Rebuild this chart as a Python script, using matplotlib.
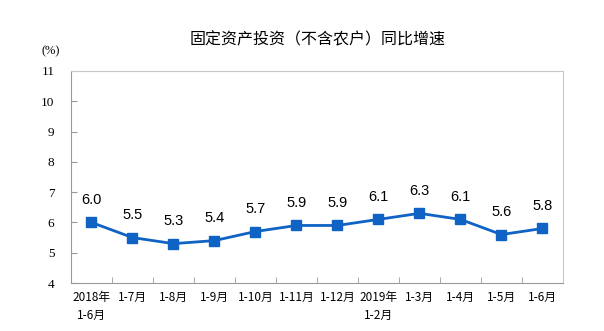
import numpy as np
import matplotlib.pyplot as plt

months = ["2018年\n1-6月", "1-7月", "1-8月", "1-9月", "1-10月", "1-11月", "1-12月",
          "2019年\n1-2月", "1-3月", "1-4月", "1-5月", "1-6月"]
growth = [6.0, 5.5, 5.3, 5.4, 5.7, 5.9, 5.9, 6.1, 6.3, 6.1, 5.6, 5.8]
yticks = [4, 5, 6, 7, 8, 9, 10, 11]

plt.rcParams["font.family"] = ["Noto Sans CJK SC", "DejaVu Sans"]

fig = plt.figure(figsize=(6.04, 3.31), dpi=100)
ax = fig.add_axes([0.1175, 0.145, 0.8145, 0.6405])

x_pos = np.arange(len(months))
ax.plot(x_pos, growth, color="#0E63C4", lw=2, marker="s", ms=7, zorder=3)
for x, v in zip(x_pos, growth):
    ax.annotate("%.1f" % v, (x, v), xytext=(0, 11), textcoords="offset points",
                ha="center", va="bottom", fontsize=10.5, family="Liberation Sans")

ax.set_xlim(-0.5, len(months) - 0.5)
ax.set_ylim(4, 11)
ax.set_yticks(yticks)
ax.set_yticklabels([str(t) for t in yticks], family="Liberation Serif", fontsize=9.5)
ax.set_xticks(x_pos)
ax.set_xticklabels(months, fontsize=8.5, linespacing=1.5)
ax.set_xticks(np.arange(-0.5, len(months)), minor=True)
ax.tick_params(axis="x", which="major", length=0, pad=6)
ax.tick_params(axis="x", which="minor", direction="in", length=4, color="#999999")
ax.tick_params(axis="y", direction="in", length=4, color="#999999", pad=12)

for s in ["top", "right"]:
    ax.spines[s].set_color("#c8c8c8")
for s in ["left", "bottom"]:
    ax.spines[s].set_color("#999999")

fig.text(0.526, 0.879, "固定资产投资（不含农户）同比增速", ha="center", va="center",
         fontsize=11.5, weight="medium")
fig.text(0.0845, 0.846, "(%)", ha="center", va="center", fontsize=9, family="Liberation Serif")

plt.savefig("out.png")
